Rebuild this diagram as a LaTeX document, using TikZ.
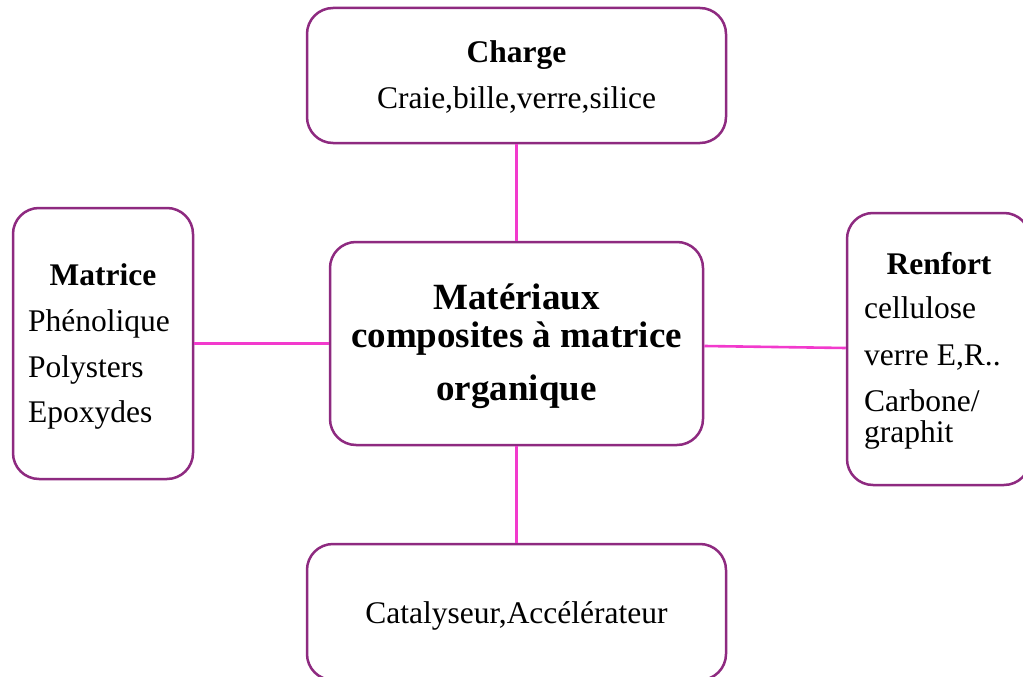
\documentclass[tikz,border=0pt]{standalone}
\usepackage{fontspec}
\setmainfont{Liberation Serif}
\usetikzlibrary{calc}
\definecolor{boxpurple}{HTML}{8E2A80}
\definecolor{linkpink}{HTML}{F23ACD}
\tikzset{
  box/.style={draw=boxpurple, line width=2.5pt, rounded corners=26pt, inner sep=0pt, fill=white},
  link/.style={draw=linkpink, line width=2.6pt},
  reg/.style={inner sep=0pt, font=\fontsize{31.5pt}{38pt}\selectfont},
  hd/.style={inner sep=0pt, font=\fontsize{31.5pt}{38pt}\selectfont\bfseries},
  big/.style={inner sep=0pt, font=\fontsize{37pt}{44pt}\selectfont\bfseries}
}
\begin{document}
\begin{tikzpicture}[x=1pt,y=-1pt]
\useasboundingbox (0,0) rectangle (1023,677);
\clip (0,0) rectangle (1023,677);
\fill[white] (0,0) rectangle (1023,677);
% boxes
\node[box, minimum width=419pt, minimum height=135pt] (charge) at (516.5,75.5) {};
\node[box, minimum width=180pt, minimum height=271pt] (matrice) at (103,343.5) {};
\node[box, minimum width=373pt, minimum height=203pt] (centre) at (516.5,343.5) {};
\node[box, minimum width=183pt, minimum height=272pt] (renfort) at (938.5,349) {};
\node[box, minimum width=419pt, minimum height=136pt] (cata) at (516.5,612) {};
% connectors
\draw[link] (charge.south) -- (centre.north);
\draw[link] (centre.south) -- (cata.north);
\draw[link] (matrice.east) -- (centre.west);
\draw[link] ($(centre.east)+(0,2.5)$) -- ($(renfort.west)+(0,-1)$);
% texts
\node[hd, anchor=base] (t1) at (516.5,63) {Charge};
\node[reg, anchor=base] (t2) at (516.5,108) {Craie,bille,verre,silice};
\node[hd, anchor=base] (t3) at (103,285) {Matrice};
\node[reg, anchor=base west] (t4) at (28,331) {Phénolique};
\node[reg, anchor=base west] (t5) at (28,377) {Polysters};
\node[reg, anchor=base west] (t6) at (28,422) {Epoxydes};
\node[big, anchor=base] (t7) at (516.5,309) {Matériaux};
\node[big, anchor=base] (t8) at (516.5,347) {composites à matrice};
\node[big, anchor=base] (t9) at (516.5,400) {organique};
\node[hd, anchor=base] (t10) at (939,274) {Renfort};
\node[reg, anchor=base west] (t11) at (864,318) {cellulose};
\node[reg, anchor=base west] (t12) at (864,365) {verre E,R..};
\node[reg, anchor=base west] (t13) at (864,411) {Carbone/};
\node[reg, anchor=base west] (t14) at (864,442) {graphit};
\node[reg, anchor=base] (t15) at (516.5,623) {Catalyseur,Accélérateur};
\end{tikzpicture}
\end{document}
